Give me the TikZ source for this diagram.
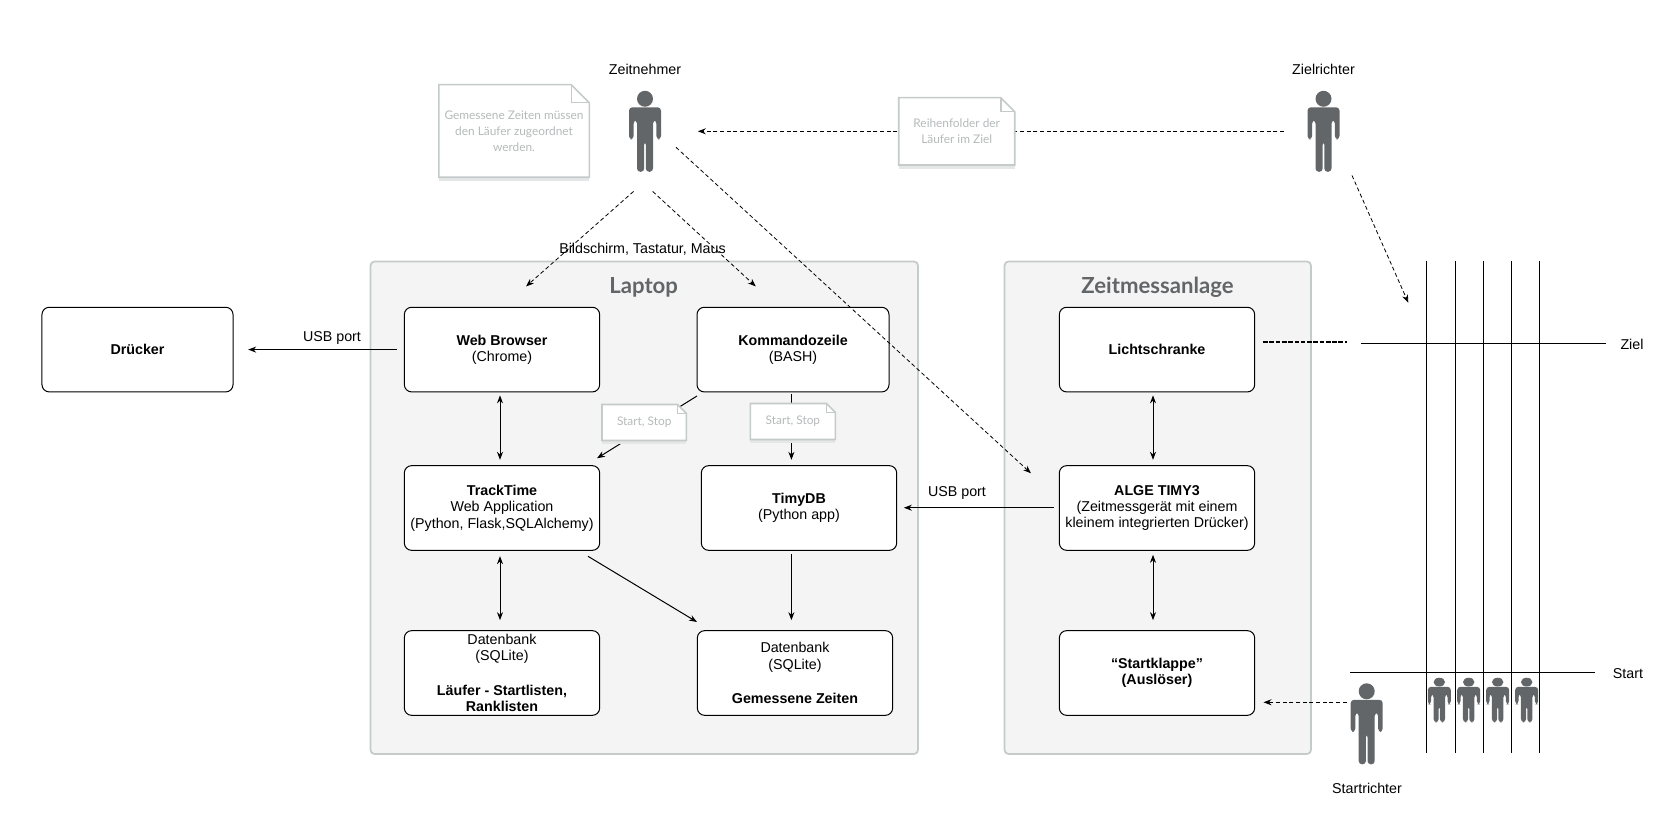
\documentclass[tikz,border=0pt]{standalone}
\usepackage{fontspec}
\setmainfont{Liberation Sans}
\newfontfamily\notefont{Lato}
\usetikzlibrary{arrows.meta}

\definecolor{panelgray}{RGB}{244,244,244}
\definecolor{panelline}{RGB}{197,202,202}
\definecolor{notetextgray}{RGB}{182,186,186}
\definecolor{titlegray}{RGB}{98,102,104}
\definecolor{persongray}{RGB}{98,102,104}

\tikzset{every picture/.style={line width=0.75pt}}
\tikzset{
  panelbox/.style={draw=panelline,fill=panelgray,line width=1.3pt,rounded corners=3pt},
  paneltitle/.style={text=titlegray,font=\notefont\bfseries\fontsize{16.6}{18}\selectfont},
  boxnode/.style={draw=black,fill=white,rounded corners=5.5pt,align=center,inner sep=0pt,
    minimum width=146.5pt,minimum height=63.5pt,font=\fontsize{10.7}{12.3}\selectfont},
  labelnode/.style={align=center,font=\fontsize{10.7}{12}\selectfont},
  personnode/.style={inner sep=0pt,minimum width=24.5pt,minimum height=61pt},
  solidarrow/.style={-{Stealth[length=6pt,width=4.5pt]}},
  bothways/.style={{Stealth[length=6pt,width=4.5pt]}-{Stealth[length=6pt,width=4.5pt]}},
  dashedarrow/.style={solidarrow,dash pattern={on 3pt off 2pt}},
  person/.pic={
    \fill[persongray] (0,-32.5) circle (8);
    \fill[persongray,rounded corners=2.5pt] (-16,-24) -- (16,-24) -- (16,8) -- (11.4,8) -- (11.4,-11) -- (8,-11)
      -- (8,40.5) -- (0.8,40.5) -- (0.8,10) -- (-0.8,10) -- (-0.8,40.5) -- (-8,40.5) -- (-8,-11)
      -- (-11.4,-11) -- (-11.4,8) -- (-16,8) -- cycle;
  }
}

\newcommand{\notebox}[7]{
  \fill[panelline!45] (#2,#5) rectangle (#4,#5+4);
  \draw[panelline,fill=white,line width=1.2pt] (#2,#3) -- (#4-#6,#3) -- (#4,#3+#6) -- (#4,#5) -- (#2,#5) -- cycle;
  \draw[panelline,line width=1.2pt] (#4-#6,#3) -- (#4-#6,#3+#6) -- (#4,#3+#6);
  \draw ({(#2+#4)/2},{(#3+#5)/2}) node [align=center,text=notetextgray,font=\notefont\fontsize{8.9}{12}\selectfont] (#1) {#7};
}

\begin{document}
\begin{tikzpicture}[x=0.75pt,y=0.75pt,yscale=-1,xscale=1]
\useasboundingbox (0,0) rectangle (1679,837);

%Panels
\draw [panelbox] (370.5,261.5) rectangle (918,754);
\draw [panelbox] (1004.5,261.5) rectangle (1311,754);
\draw (643.6,287) node [paneltitle] (laptop) {Laptop};
\draw (1157.5,287) node [paneltitle] (anlage) {Zeitmessanlage};

%Boxes
\draw (137.5,349.6) node [boxnode,minimum width=143.3pt] (druecker) {\textbf{Drücker}};
\draw (502,349.6) node [boxnode] (web) {\textbf{Web Browser}\\(Chrome)};
\draw (793,349.6) node [boxnode,minimum width=144pt] (komm) {\textbf{Kommandozeile}\\(BASH)};
\draw (502,508) node [boxnode] (track) {\textbf{TrackTime}\\Web Application\\(Python, Flask,SQLAlchemy)};
\draw (799,508) node [boxnode] (timydb) {\textbf{TimyDB}\\(Python app)};
\draw (502,673) node [boxnode] (lauferdb) {Datenbank\\(SQLite)\\[13.5pt]\textbf{Läufer - Startlisten,}\\\textbf{Ranklisten}};
\draw (795,673) node [boxnode] (zeitdb) {Datenbank\\(SQLite)\\[13.5pt]\textbf{Gemessene Zeiten}};
\draw (1157,349.6) node [boxnode] (licht) {\textbf{Lichtschranke}};
\draw (1157,508) node [boxnode] (alge) {\textbf{ALGE TIMY3}\\(Zeitmessgerät mit einem\\kleinem integrierten Drücker)};
\draw (1157,673) node [boxnode] (klappe) {\textbf{“Startklappe”}\\\textbf{(Auslöser)}};

%Persons
\draw (645,131.3) node [personnode] (zeitnehmer) {};
\draw (1323.5,131.3) node [personnode] (zielrichter) {};
\draw (1366.7,723.8) node [personnode] (startrichter) {};
\pic [yscale=-1] at (zeitnehmer) {person};
\pic [yscale=-1] at (zielrichter) {person};
\pic [yscale=-1] at (startrichter) {person};
\foreach \runner in {1439.3,1468.7,1497.7,1526.7}
  \pic [xscale=0.72,yscale=-0.55] at (\runner,700) {person};

%Track
\coordinate (zielleft) at (1361,343.7);
\coordinate (zielright) at (1606,343.7);
\coordinate (startleft) at (1350,672.3);
\coordinate (startright) at (1594.7,672.3);
\draw (zielleft) -- (zielright);
\draw (startleft) -- (startright);
\foreach \lane in {1426.3,1455.3,1483.3,1511.3,1539.3}
  \draw (\lane,261) -- (\lane,753.3);

%Straight Lines
\draw [solidarrow,shorten <=5.5pt,shorten >=11pt] (web.west) -- (druecker.east);
\draw [solidarrow,shorten <=4pt,shorten >=5pt] ([yshift=-0.2pt]alge.west) -- ([yshift=-0.2pt]timydb.east);
\draw [bothways,shorten <=2.2pt,shorten >=4pt] ([xshift=-1.5pt]web.south) -- ([xshift=-1.5pt]track.north);
\draw [bothways,shorten <=4pt,shorten >=7.5pt] ([xshift=-1.5pt]track.south) -- ([xshift=-1.5pt]lauferdb.north);
\draw [solidarrow,shorten <=1.5pt,shorten >=4pt] ([xshift=-1.2pt]komm.south) -- ([xshift=-5.7pt]timydb.north);
\draw [solidarrow,shorten <=2.5pt,shorten >=7.5pt] ([xshift=-5.7pt]timydb.south) -- ([xshift=-2.7pt]zeitdb.north);
\draw [bothways,shorten <=2.2pt,shorten >=4pt] ([xshift=-3pt]licht.south) -- ([xshift=-3pt]alge.north);
\draw [bothways,shorten <=3pt,shorten >=7.5pt] ([xshift=-3pt]alge.south) -- ([xshift=-3pt]klappe.north);
\draw [solidarrow] ([shift={(-96,46.4)}]komm.center) -- ([shift={(95,-49.7)}]track.center);
\draw [solidarrow] ([shift={(86,48.3)}]track.center) -- ([shift={(-98,-51)}]zeitdb.center);

%Dashed Lines
\draw [dashedarrow,shorten <=17pt,shorten >=27pt] (zielrichter.west) -- (zeitnehmer.east);
\draw [dashedarrow,line width=0.6pt] ([shift={(-11.5,19)}]zeitnehmer.south) -- ([shift={(24,-20.3)}]web.north);
\draw [dashedarrow,line width=0.6pt] ([shift={(7.7,19)}]zeitnehmer.south) -- ([shift={(-37.2,-20.3)}]komm.north);
\draw [dashedarrow,line width=0.6pt] ([shift={(31,16)}]zeitnehmer.center) -- ([shift={(-126,-34.7)}]alge.center);
\draw [dashedarrow,line width=0.6pt] ([shift={(28.5,3)}]zielrichter.south) -- ([shift={(47.3,-41)}]zielleft);
\draw [dashedarrow] ([shift={(-20,-21.5)}]startrichter.center) -- ([shift={(8.3,29.3)}]klappe.east);
\draw [dash pattern={on 3.5pt off 1.2pt},line width=1pt] ([shift={(8,-7.6)}]licht.east) -- ([shift={(-14,-1.7)}]zielleft);

%Notes
\notebox{zuordnung}{438.8}{84.7}{589.3}{177.3}{18}{Gemessene Zeiten müssen\\den Läufer zugeordnet\\werden.}
\notebox{reihenfolge}{898.7}{97.7}{1014.7}{165}{14}{Reihenfolder der\\Läufer im Ziel}
\notebox{startstopa}{602}{404.5}{686.4}{440.5}{9}{Start, Stop}
\notebox{startstopb}{750.4}{403.5}{835.4}{439.5}{9}{Start, Stop}

% Text Node
\draw (645,69) node [labelnode] (zeitlabel) {Zeitnehmer};
\draw (1323.5,69) node [labelnode] (ziellabel) {Zielrichter};
\draw (1367,788) node [labelnode] (startlabel) {Startrichter};
\draw (642.5,249) node [labelnode] (eingabe) {Bildschirm, Tastatur, Maus};
\draw (332,338) node [labelnode] (usbdrucker) {USB port};
\draw (957,493.5) node [labelnode] (usbtimy) {USB port};
\draw (1632,344) node [labelnode] (ziel) {Ziel};
\draw (1628,674) node [labelnode] (start) {Start};

\end{tikzpicture}
\end{document}
